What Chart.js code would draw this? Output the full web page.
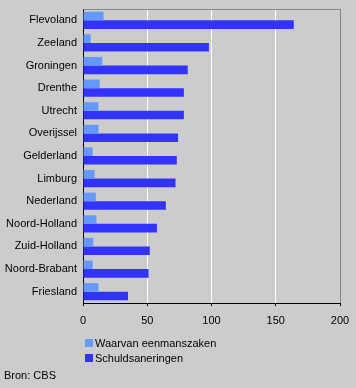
<!DOCTYPE html>
<html><head><meta charset="utf-8">
<script src="https://cdn.jsdelivr.net/npm/chart.js@4/dist/chart.umd.min.js"></script>
<style>
html,body{margin:0;padding:0;background:#cccccc;}
#wrap{position:relative;width:356px;height:388px;font-family:"Liberation Sans",Arial,sans-serif;font-size:11px;color:#000;}
#c{position:absolute;left:0;top:0;}
#legend{position:absolute;left:85px;top:336px;}
.li{height:15px;line-height:15px;white-space:nowrap;}
.sw{display:inline-block;width:8px;height:8px;margin-right:2px;vertical-align:-0px;}
#src{position:absolute;left:4px;top:369px;}
</style></head>
<body><div id="wrap"><canvas id="c" width="356" height="388"></canvas><div id="legend"></div><div id="src">Bron: CBS</div></div>
<script>
const categories = ["Flevoland","Zeeland","Groningen","Drenthe","Utrecht","Overijssel","Gelderland","Limburg","Nederland","Noord-Holland","Zuid-Holland","Noord-Brabant","Friesland"];
const eenmanszaken = [16,6,15,13,12,12,7.5,9,10,10.5,8,7.5,12];
const schuldsaneringen = [164,98,81.5,78.5,78.5,74,73,72,64.5,57.5,52,51,35];
const xTicks = [0,50,100,150,200];
const seriesNames = ["Waarvan eenmanszaken","Schuldsaneringen"];
const colors = ["#6699ff","#3333ff"];

const frame = {
  id:'frame',
  afterDraw(chart){
    const {ctx, chartArea:a} = chart;
    ctx.save();
    ctx.strokeStyle='#888888'; ctx.lineWidth=1;
    ctx.beginPath();
    ctx.moveTo(Math.round(a.left)+0.5, Math.round(a.top)+0.5);
    ctx.lineTo(Math.round(a.right)+0.5, Math.round(a.top)+0.5);
    ctx.lineTo(Math.round(a.right)+0.5, Math.round(a.bottom));
    ctx.stroke();
    ctx.restore();
  }
};

Chart.defaults.font.family = '"Liberation Sans", Arial, sans-serif';
Chart.defaults.font.size = 11;
Chart.defaults.color = '#000';

const chart = new Chart(document.getElementById('c'), {
  type:'bar',
  data:{
    labels:categories,
    datasets:[
      {label:seriesNames[0], data:eenmanszaken, backgroundColor:colors[0]},
      {label:seriesNames[1], data:schuldsaneringen, backgroundColor:colors[1]}
    ]
  },
  options:{
    indexAxis:'y',
    responsive:false,
    animation:false,
    datasets:{bar:{categoryPercentage:0.76, barPercentage:1.0, borderWidth:0}},
    layout:{padding:{left:0,right:16,top:9,bottom:0}},
    plugins:{legend:{display:false}, tooltip:{enabled:false}},
    scales:{
      x:{
        min:0,max:200,
        afterBuildTicks(s){ s.ticks = xTicks.map(v=>({value:v})); },
        afterFit(s){ s.height = 85; s.paddingLeft = 0; s.paddingRight = 0; },
        grid:{color:(c)=> c.tick && c.tick.value===200 ? '#888888' : '#ffffff', lineWidth:1, tickLength:3, tickColor:'#000', drawOnChartArea:true},
        border:{display:true,color:'#000',width:1},
        ticks:{padding:8, color:'#000', font:{size:11}, maxRotation:0}
      },
      y:{
        afterFit(s){ s.width = 83; s.paddingTop = 0; s.paddingBottom = 0; },
        grid:{display:false, drawTicks:false},
        border:{display:true,color:'#000',width:1},
        ticks:{padding:6, color:'#000', font:{size:11}, autoSkip:false}
      }
    }
  },
  plugins:[frame]
});

const lg = document.getElementById('legend');
chart.data.datasets.forEach(d=>{
  const row=document.createElement('div'); row.className='li';
  const sw=document.createElement('span'); sw.className='sw'; sw.style.background=d.backgroundColor;
  row.appendChild(sw); row.appendChild(document.createTextNode(d.label));
  lg.appendChild(row);
});
</script></body></html>
